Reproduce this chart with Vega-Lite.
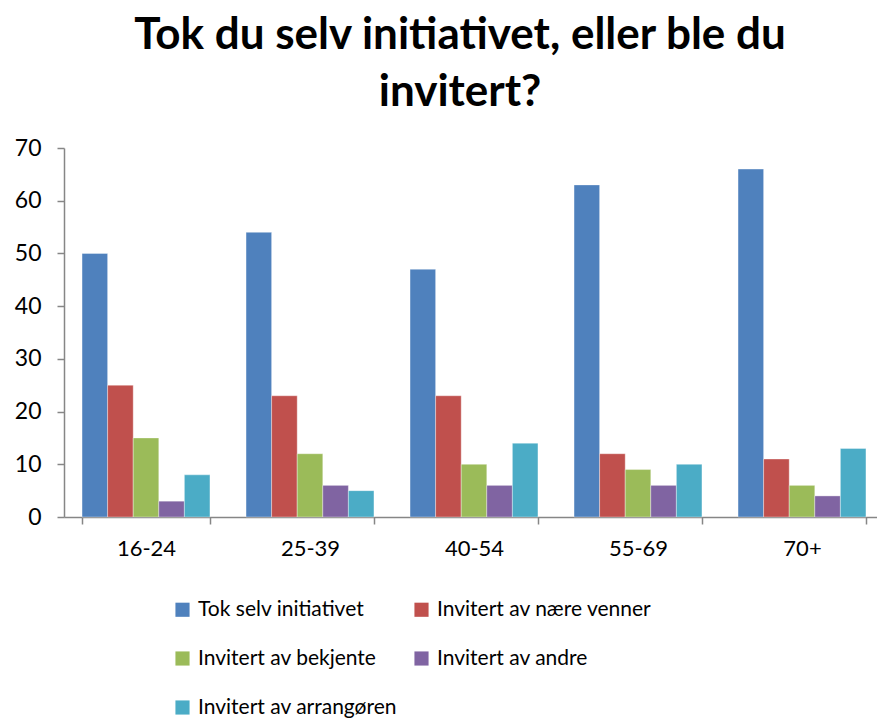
{
  "$schema": "https://vega.github.io/schema/vega-lite/v6.json",
  "autosize": {"type": "none"},
  "padding": {"left": 64, "top": 148, "right": 0, "bottom": 203},
  "width": 820,
  "height": 369,
  "background": "white",
  "title": {
    "text": ["Tok du selv initiativet, eller ble du", "invitert?"],
    "font": "Lato",
    "fontSize": 44,
    "fontWeight": "bold",
    "color": "#000000",
    "lineHeight": 57,
    "anchor": "middle",
    "dx": -14,
    "offset": 22
  },
  "data": {
    "values": [
      {"age": "16-24", "group": "Tok selv initiativet", "value": 50},
      {"age": "16-24", "group": "Invitert av nære venner", "value": 25},
      {"age": "16-24", "group": "Invitert av bekjente", "value": 15},
      {"age": "16-24", "group": "Invitert av andre", "value": 3},
      {"age": "16-24", "group": "Invitert av arrangøren", "value": 8},
      {"age": "25-39", "group": "Tok selv initiativet", "value": 54},
      {"age": "25-39", "group": "Invitert av nære venner", "value": 23},
      {"age": "25-39", "group": "Invitert av bekjente", "value": 12},
      {"age": "25-39", "group": "Invitert av andre", "value": 6},
      {"age": "25-39", "group": "Invitert av arrangøren", "value": 5},
      {"age": "40-54", "group": "Tok selv initiativet", "value": 47},
      {"age": "40-54", "group": "Invitert av nære venner", "value": 23},
      {"age": "40-54", "group": "Invitert av bekjente", "value": 10},
      {"age": "40-54", "group": "Invitert av andre", "value": 6},
      {"age": "40-54", "group": "Invitert av arrangøren", "value": 14},
      {"age": "55-69", "group": "Tok selv initiativet", "value": 63},
      {"age": "55-69", "group": "Invitert av nære venner", "value": 12},
      {"age": "55-69", "group": "Invitert av bekjente", "value": 9},
      {"age": "55-69", "group": "Invitert av andre", "value": 6},
      {"age": "55-69", "group": "Invitert av arrangøren", "value": 10},
      {"age": "70+", "group": "Tok selv initiativet", "value": 66},
      {"age": "70+", "group": "Invitert av nære venner", "value": 11},
      {"age": "70+", "group": "Invitert av bekjente", "value": 6},
      {"age": "70+", "group": "Invitert av andre", "value": 4},
      {"age": "70+", "group": "Invitert av arrangøren", "value": 13}
    ]
  },
  "mark": {"type": "bar", "stroke": "#ffffff", "strokeWidth": 0.6, "strokeOpacity": 0.6},
  "encoding": {
    "x": {
      "field": "age",
      "type": "nominal",
      "sort": null,
      "title": null,
      "scale": {"paddingInner": 0.22, "paddingOuter": 0.11},
      "axis": {
        "labelAngle": 0,
        "labelFont": "Lato",
        "labelFontSize": 22,
        "labelColor": "#000000",
        "labelPadding": 14,
        "tickBand": "extent",
        "tickSize": 7,
        "tickColor": "#868686",
        "domainColor": "#868686",
        "domainWidth": 1.5,
        "tickWidth": 1.5,
        "grid": false
      }
    },
    "xOffset": {
      "field": "group",
      "type": "nominal",
      "sort": ["Tok selv initiativet", "Invitert av nære venner", "Invitert av bekjente", "Invitert av andre", "Invitert av arrangøren"],
      "scale": {"paddingInner": 0, "paddingOuter": 0}
    },
    "y": {
      "field": "value",
      "type": "quantitative",
      "title": null,
      "scale": {"domain": [0, 70], "nice": false},
      "axis": {
        "values": [0, 10, 20, 30, 40, 50, 60, 70],
        "labelFont": "Lato",
        "labelFontSize": 23,
        "labelColor": "#000000",
        "labelPadding": 16,
        "tickSize": 7,
        "tickColor": "#868686",
        "domainColor": "#868686",
        "domainWidth": 1.5,
        "tickWidth": 1.5,
        "grid": false
      }
    },
    "color": {
      "field": "group",
      "type": "nominal",
      "sort": ["Tok selv initiativet", "Invitert av nære venner", "Invitert av bekjente", "Invitert av andre", "Invitert av arrangøren"],
      "scale": {
        "domain": ["Tok selv initiativet", "Invitert av nære venner", "Invitert av bekjente", "Invitert av andre", "Invitert av arrangøren"],
        "range": ["#4F81BD", "#C0504D", "#9BBB59", "#8064A2", "#4BACC6"]
      },
      "legend": {
        "title": null,
        "orient": "none",
        "direction": "horizontal",
        "legendX": 108,
        "legendY": 451,
        "columns": 2,
        "columnPadding": 13,
        "rowPadding": 27,
        "symbolType": "square",
        "symbolSize": 200,
        "symbolStrokeWidth": 0,
        "labelFont": "Lato",
        "labelFontSize": 21,
        "labelColor": "#000000",
        "labelOffset": 5,
        "labelLimit": 400
      }
    }
  },
  "config": {"view": {"stroke": null}}
}
